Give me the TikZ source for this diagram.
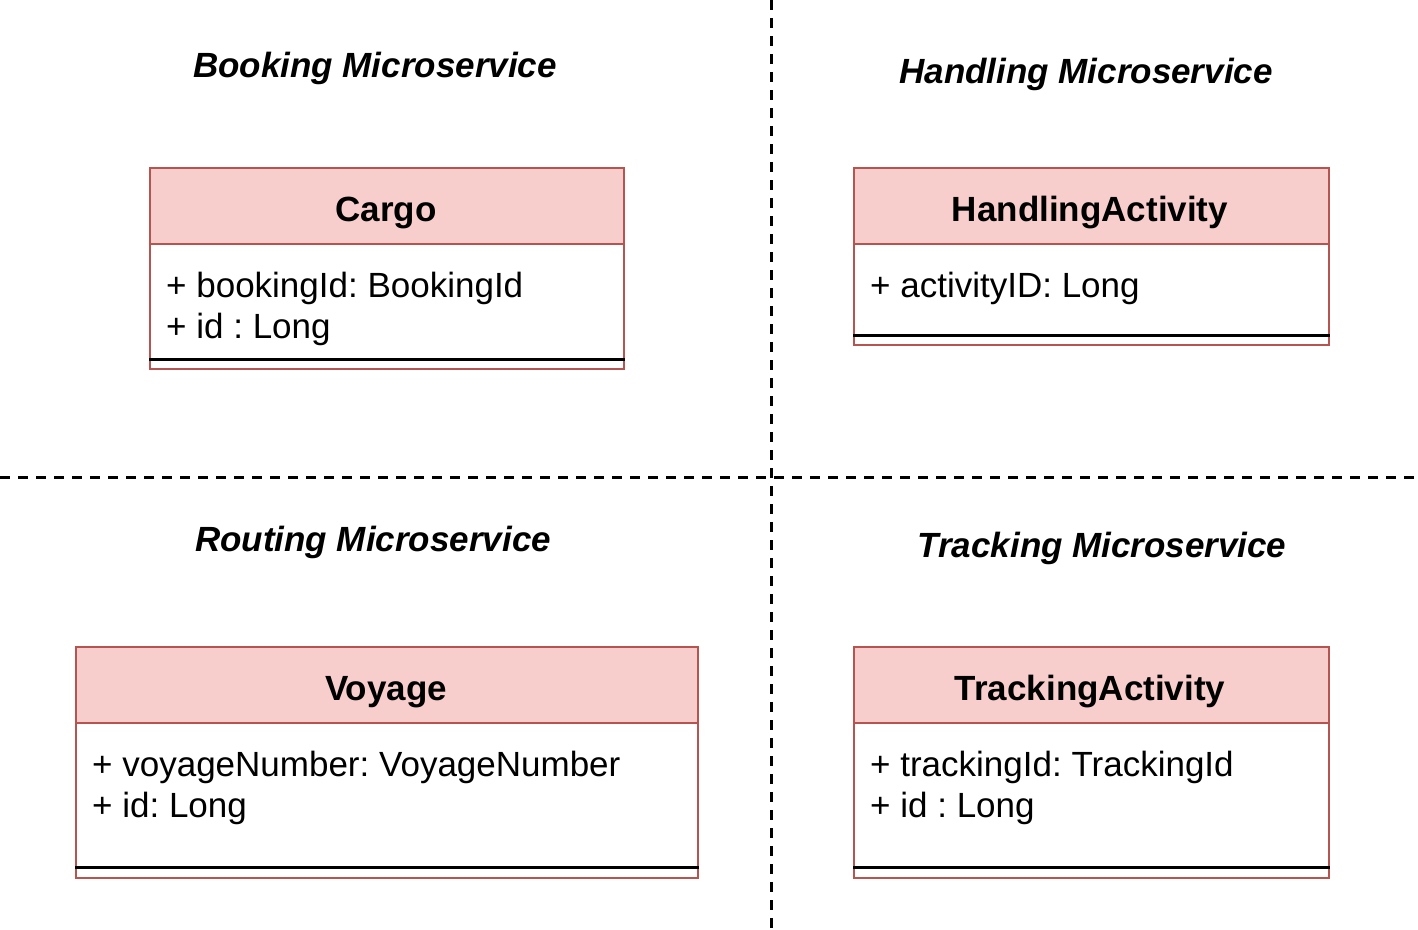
\documentclass[tikz,border=0pt]{standalone}
\usepackage{fontspec}
\setmainfont{Liberation Sans}
\frenchspacing
\definecolor{hdrfill}{HTML}{F8CECC}
\definecolor{hdrline}{HTML}{B85450}
\begin{document}
\begin{tikzpicture}[x=1pt,y=-1pt,
  ttl/.style={inner sep=0pt, anchor=base, font=\fontsize{35}{41}\selectfont\bfseries\itshape},
  hdr/.style={draw=hdrline, fill=hdrfill, line width=2.3pt, inner sep=0pt, anchor=north west},
  hdrtext/.style={inner sep=0pt, anchor=base, font=\fontsize{35}{41}\selectfont\bfseries},
  bodybox/.style={draw=hdrline, fill=white, line width=2.3pt, inner sep=0pt, anchor=north west},
  attr/.style={inner sep=0pt, anchor=base west, font=\fontsize{35}{41}\selectfont},
  sepline/.style={draw=black, line width=3.2pt},
  divider/.style={draw=black, line width=3pt, dash pattern=on 10pt off 8pt}
]
\useasboundingbox (0,0) rectangle (1418,929);

% dividers
\coordinate (vtop) at (771,0);
\coordinate (vbot) at (771,929);
\coordinate (hleft) at (0,477);
\coordinate (hright) at (1418,477);
\draw[divider] (vtop) -- (vbot);
\draw[divider] (hleft) -- (hright);

% titles
\node[ttl] (tbook) at (375,77) {Booking Microservice};
\node[ttl] (thand) at (1086,83) {Handling Microservice};
\node[ttl] (trout) at (373,551) {Routing Microservice};
\node[ttl] (ttrack) at (1102,557) {Tracking Microservice};

% Cargo
\node[bodybox, minimum width=474pt, minimum height=125pt] (cargoB) at (149,243) {};
\node[hdr, minimum width=474pt, minimum height=76pt] (cargoH) at (149,167) {};
\node[hdrtext] (cargoT) at (386,221) {Cargo};
\node[attr] (cargoA1) at (166,297) {+ bookingId: BookingId};
\node[attr] (cargoA2) at (166,338) {+ id : Long};
\draw[sepline] ([yshift=11pt]cargoB.south west) -- ([yshift=11pt]cargoB.south east);

% HandlingActivity
\node[bodybox, minimum width=475pt, minimum height=101pt] (handB) at (853,243) {};
\node[hdr, minimum width=475pt, minimum height=76pt] (handH) at (853,167) {};
\node[hdrtext] (handT) at (1090,221) {HandlingActivity};
\node[attr] (handA1) at (870,297) {+ activityID: Long};
\draw[sepline] ([yshift=11pt]handB.south west) -- ([yshift=11pt]handB.south east);

% Voyage
\node[bodybox, minimum width=622pt, minimum height=155pt] (voyB) at (75,722) {};
\node[hdr, minimum width=622pt, minimum height=76pt] (voyH) at (75,646) {};
\node[hdrtext] (voyT) at (386,700) {Voyage};
\node[attr] (voyA1) at (92,776) {+ voyageNumber: VoyageNumber};
\node[attr] (voyA2) at (92,817) {+ id: Long};
\draw[sepline] ([yshift=12pt]voyB.south west) -- ([yshift=12pt]voyB.south east);

% TrackingActivity
\node[bodybox, minimum width=475pt, minimum height=155pt] (trkB) at (853,722) {};
\node[hdr, minimum width=475pt, minimum height=76pt] (trkH) at (853,646) {};
\node[hdrtext] (trkT) at (1090,700) {TrackingActivity};
\node[attr] (trkA1) at (870,776) {+ trackingId: TrackingId};
\node[attr] (trkA2) at (870,817) {+ id : Long};
\draw[sepline] ([yshift=12pt]trkB.south west) -- ([yshift=12pt]trkB.south east);
\end{tikzpicture}
\end{document}
